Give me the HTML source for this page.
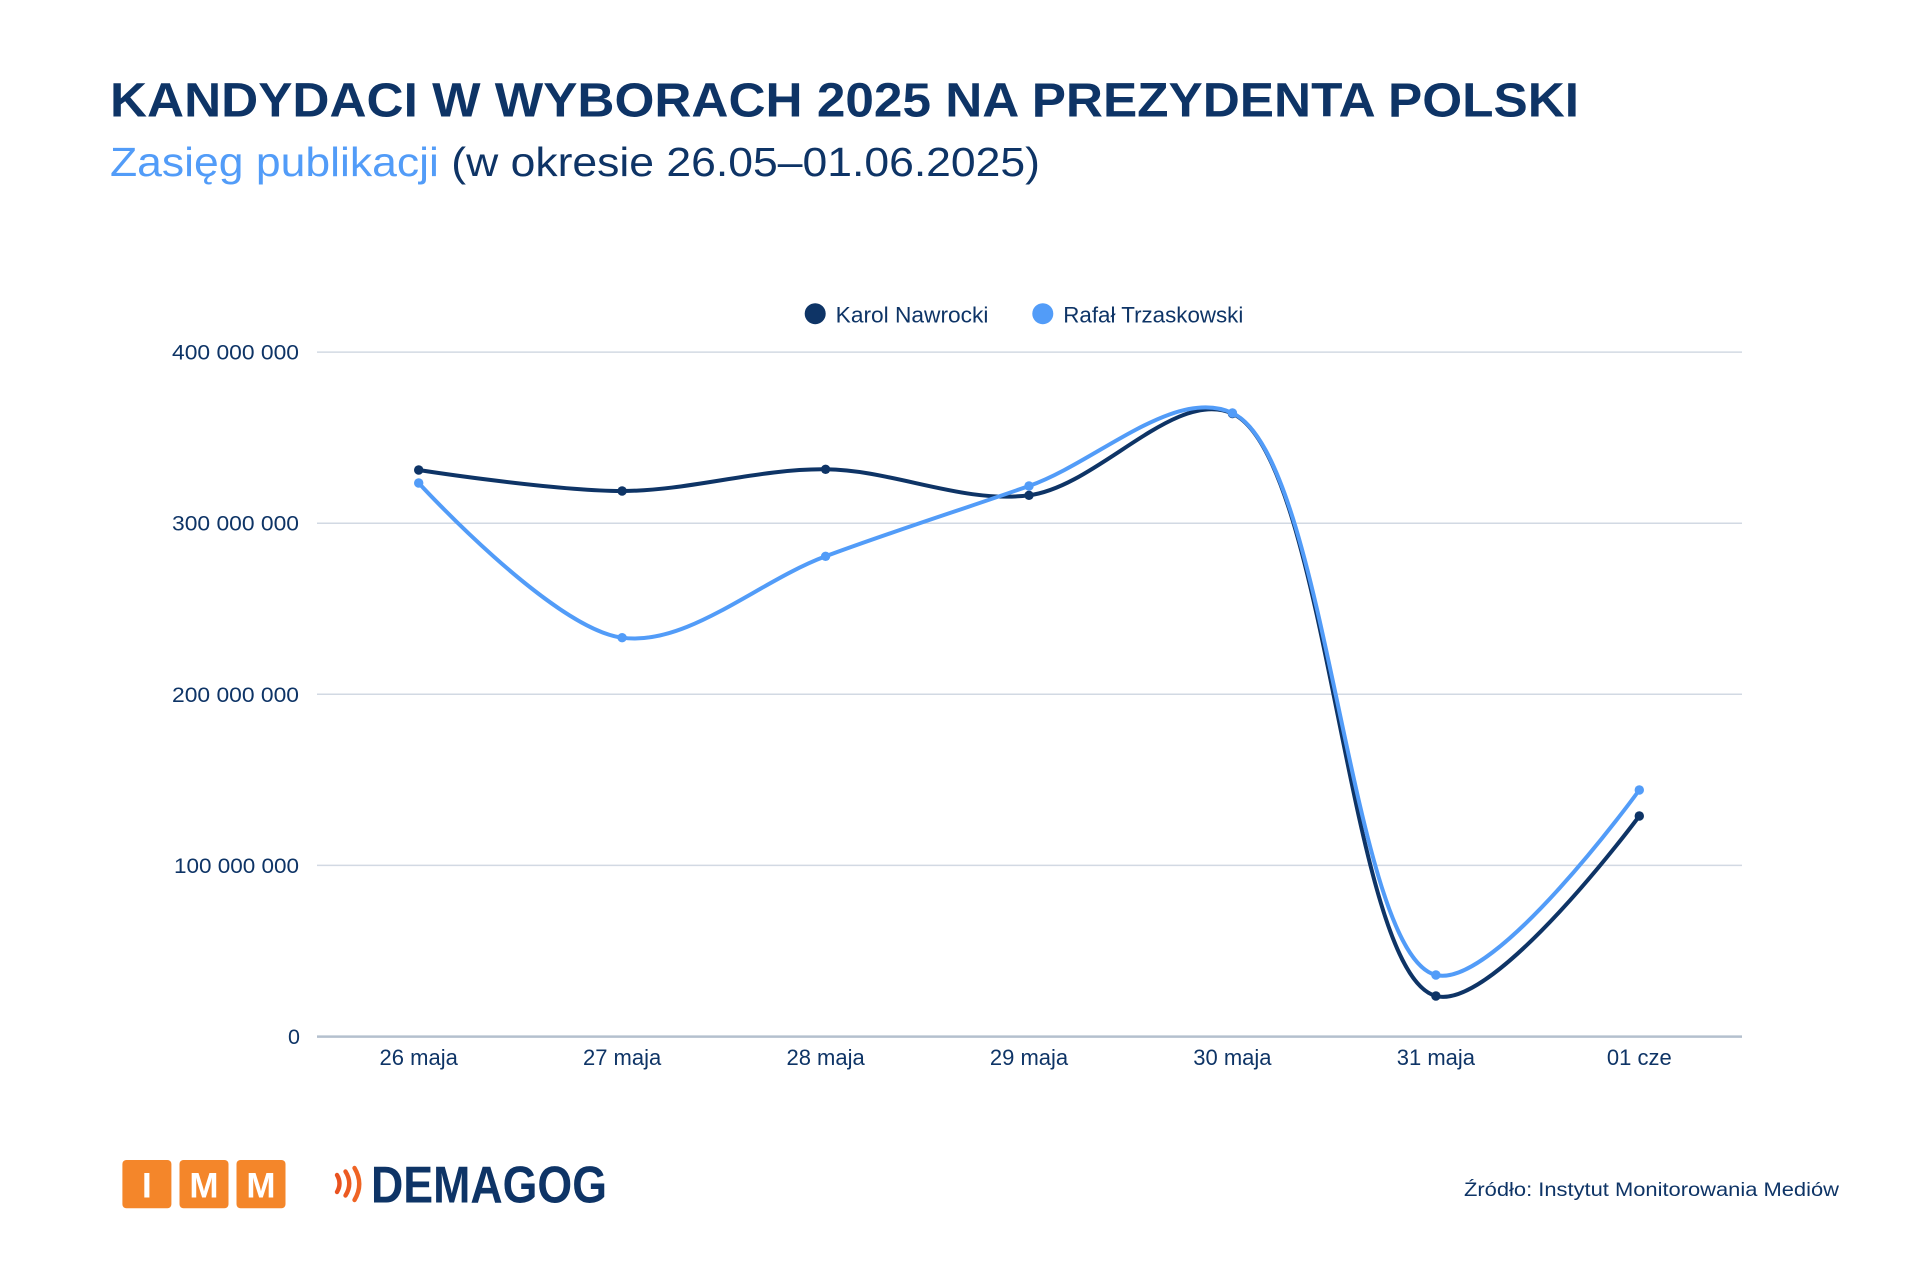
<!DOCTYPE html>
<html lang="pl">
<head>
<meta charset="utf-8">
<title>Kandydaci w wyborach 2025 na prezydenta Polski</title>
<style>
  html,body{margin:0;padding:0;background:#ffffff;}
  body{width:1920px;height:1280px;overflow:hidden;}
  svg{display:block;}
  text{font-family:"Liberation Sans", Arial, sans-serif;}
</style>
</head>
<body>
<svg id="chart" width="1920" height="1280" viewBox="0 0 1920 1280" xmlns="http://www.w3.org/2000/svg">
  <rect x="0" y="0" width="1920" height="1280" fill="#ffffff"/>

  <!-- Title -->
  <text x="110" y="116.7" font-size="48" font-weight="700" fill="#0e3466" textLength="1469" lengthAdjust="spacingAndGlyphs">KANDYDACI W WYBORACH 2025 NA PREZYDENTA POLSKI</text>
  <!-- Subtitle -->
  <text x="110" y="176" font-size="40.5" fill="#0e3466" textLength="930" lengthAdjust="spacingAndGlyphs"><tspan fill="#529cf8">Zasięg publikacji</tspan> (w okresie 26.05–01.06.2025)</text>

  <!-- Legend -->
  <circle cx="815.2" cy="313.7" r="10.5" fill="#0e3466"/>
  <text x="835.7" y="322.3" font-size="22.5" fill="#0e3466" textLength="152.7" lengthAdjust="spacingAndGlyphs">Karol Nawrocki</text>
  <circle cx="1042.8" cy="313.7" r="10.5" fill="#529cf8"/>
  <text x="1063.3" y="322.3" font-size="22.5" fill="#0e3466" textLength="180" lengthAdjust="spacingAndGlyphs">Rafał Trzaskowski</text>

  <!-- Gridlines -->
  <g stroke="#d2d9e3" stroke-width="1.5">
    <line x1="317" y1="352.1" x2="1742" y2="352.1"/>
    <line x1="317" y1="523.2" x2="1742" y2="523.2"/>
    <line x1="317" y1="694.3" x2="1742" y2="694.3"/>
    <line x1="317" y1="865.4" x2="1742" y2="865.4"/>
  </g>
  <line x1="317" y1="1036.6" x2="1742" y2="1036.6" stroke="#b4c0ce" stroke-width="2.5"/>

  <!-- Y labels -->
  <g font-size="21.5" fill="#0e3466" text-anchor="end">
    <text x="299" y="359.6" textLength="127" lengthAdjust="spacingAndGlyphs">400 000 000</text>
    <text x="299" y="530.7" textLength="127" lengthAdjust="spacingAndGlyphs">300 000 000</text>
    <text x="299" y="701.8" textLength="127" lengthAdjust="spacingAndGlyphs">200 000 000</text>
    <text x="299" y="872.9" textLength="125" lengthAdjust="spacingAndGlyphs">100 000 000</text>
    <text x="300" y="1044.2">0</text>
  </g>

  <!-- X labels -->
  <g font-size="22" fill="#0e3466" text-anchor="middle">
    <text x="418.7" y="1065">26 maja</text>
    <text x="622.1" y="1065">27 maja</text>
    <text x="825.6" y="1065">28 maja</text>
    <text x="1029" y="1065">29 maja</text>
    <text x="1232.4" y="1065">30 maja</text>
    <text x="1435.9" y="1065">31 maja</text>
    <text x="1639.3" y="1065">01 cze</text>
  </g>

  <!-- Series -->
  <path id="navyLine" d="M418.7,470 L622.1,491 L825.6,469.3 L1029,495.3 L1232.4,413.5 L1435.9,996 L1639.3,816" fill="none" stroke="#0e3466" stroke-width="4" stroke-linejoin="round" stroke-linecap="round"/>
  <g id="navyPts" fill="#0e3466">
    <circle cx="418.7" cy="470" r="4.7"/>
    <circle cx="622.1" cy="491" r="4.7"/>
    <circle cx="825.6" cy="469.3" r="4.7"/>
    <circle cx="1029" cy="495.3" r="4.7"/>
    <circle cx="1232.4" cy="413.5" r="4.7"/>
    <circle cx="1435.9" cy="996" r="4.7"/>
    <circle cx="1639.3" cy="816" r="4.7"/>
  </g>
  <path id="blueLine" d="M418.7,483 L622.1,637.7 L825.6,556.3 L1029,486 L1232.4,413 L1435.9,975 L1639.3,790" fill="none" stroke="#529cf8" stroke-width="4" stroke-linejoin="round" stroke-linecap="round"/>
  <g id="bluePts" fill="#529cf8">
    <circle cx="418.7" cy="483" r="4.7"/>
    <circle cx="622.1" cy="637.7" r="4.7"/>
    <circle cx="825.6" cy="556.3" r="4.7"/>
    <circle cx="1029" cy="486" r="4.7"/>
    <circle cx="1232.4" cy="413" r="4.7"/>
    <circle cx="1435.9" cy="975" r="4.7"/>
    <circle cx="1639.3" cy="790" r="4.7"/>
  </g>

  <!-- Footer: IMM logo -->
  <g>
    <rect x="122.4" y="1160" width="49" height="48.3" rx="4" ry="4" fill="#f4862a"/>
    <rect x="179.5" y="1160" width="49" height="48.3" rx="4" ry="4" fill="#f4862a"/>
    <rect x="236.5" y="1160" width="49" height="48.3" rx="4" ry="4" fill="#f4862a"/>
    <g font-size="35" font-weight="700" fill="#ffffff" text-anchor="middle">
      <text x="146.9" y="1197.3">I</text>
      <text x="204" y="1197.3">M</text>
      <text x="261" y="1197.3">M</text>
    </g>
  </g>

  <!-- Footer: DEMAGOG logo -->
  <g fill="none" stroke-linecap="round" stroke-width="4.4">
    <path d="M337,1175 Q342,1183.5 337,1192" stroke="#e9521f"/>
    <path d="M345.5,1171.5 Q353,1183.5 345.5,1195.5" stroke="#ec5a21"/>
    <path d="M354.5,1168 Q364,1184 354.5,1200" stroke="#ef6424"/>
  </g>
  <text x="371" y="1202.7" font-size="52" font-weight="700" fill="#0e3466" textLength="236" lengthAdjust="spacingAndGlyphs">DEMAGOG</text>

  <!-- Source -->
  <text x="1464" y="1196" font-size="19.5" fill="#0e3466" textLength="375" lengthAdjust="spacingAndGlyphs">Źródło: Instytut Monitorowania Mediów</text>
</svg>

<script>
(function(){
  var xs=[418.7,622.1,825.6,1029,1232.4,1435.9,1639.3];
  var navy=[470,491,469.3,495.3,413.5,996,816];
  var blue=[483,637.7,556.3,486,413,975,790];
  function path(ys){
    var P=xs.map(function(x,i){return [x,ys[i]];});
    function L(a,b){return Math.sqrt((a[0]-b[0])*(a[0]-b[0])+(a[1]-b[1])*(a[1]-b[1]));}
    var d="M"+P[0][0]+","+P[0][1];
    for(var i=0;i<P.length-1;i++){
      var p0=P[i-1],p1=P[i],p2=P[i+1],p3=P[i+2];
      var c1=[p1[0],p1[1]],c2=[p2[0],p2[1]];
      var l12=L(p1,p2),l12a=Math.sqrt(l12);
      if(p0){
        var l01=L(p0,p1),l01a=Math.sqrt(l01);
        var a=2*l01+3*l01a*l12a+l12,n=3*l01a*(l01a+l12a);
        c1=[(p1[0]*a-p0[0]*l12+p2[0]*l01)/n,(p1[1]*a-p0[1]*l12+p2[1]*l01)/n];
      }
      if(p3){
        var l23=L(p2,p3),l23a=Math.sqrt(l23);
        var b=2*l23+3*l23a*l12a+l12,m=3*l23a*(l23a+l12a);
        c2=[(p2[0]*b+p1[0]*l23-p3[0]*l12)/m,(p2[1]*b+p1[1]*l23-p3[1]*l12)/m];
      }
      d+=" C"+c1[0].toFixed(2)+","+c1[1].toFixed(2)+" "+c2[0].toFixed(2)+","+c2[1].toFixed(2)+" "+p2[0]+","+p2[1];
    }
    return d;
  }
  document.getElementById("navyLine").setAttribute("d",path(navy));
  document.getElementById("blueLine").setAttribute("d",path(blue));
})();
</script>
</body>
</html>
